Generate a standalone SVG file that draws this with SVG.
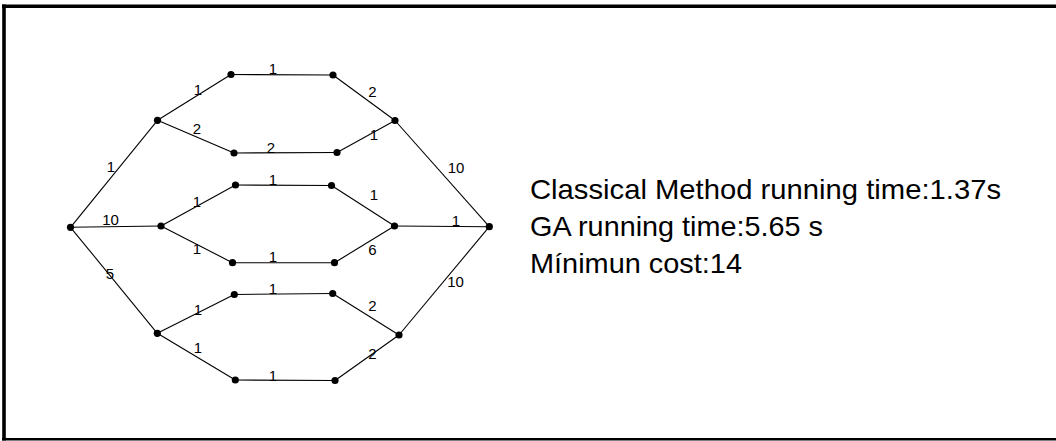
<svg xmlns="http://www.w3.org/2000/svg" width="1056" height="441" viewBox="0 0 1056 441">
<style>
.e{stroke:#000;stroke-width:1.1;fill:none}
.n{fill:#000}
.l{font-family:"Liberation Sans",Arial,sans-serif;font-size:15px;fill:#000;text-anchor:middle}
.t{font-family:"Liberation Sans",Arial,sans-serif;font-size:28px;fill:#000}
.f{stroke:#000;fill:none}
</style>
<rect width="1056" height="441" fill="#fff"/>
<g id="frame">
<line class="f" x1="2" y1="6.3" x2="1056" y2="6.3" stroke-width="3.6"/>
<line class="f" x1="4" y1="4.5" x2="4" y2="440.5" stroke-width="3.6"/>
<line class="f" x1="2" y1="439.2" x2="1056" y2="439.2" stroke-width="2.6"/>
</g>
<g id="connectors">
<line class="e" x1="70.5" y1="227.3" x2="157.5" y2="120.3"/>
<line class="e" x1="70.5" y1="227.3" x2="161" y2="226"/>
<line class="e" x1="70.5" y1="227.3" x2="157.3" y2="333.3"/>
<line class="e" x1="157.5" y1="120.3" x2="231" y2="74.5"/>
<line class="e" x1="157.5" y1="120.3" x2="234" y2="153"/>
<line class="e" x1="231" y1="74.5" x2="333" y2="75"/>
<line class="e" x1="234" y1="153" x2="337" y2="152.5"/>
<line class="e" x1="333" y1="75" x2="395" y2="120.5"/>
<line class="e" x1="337" y1="152.5" x2="395" y2="120.5"/>
<line class="e" x1="395" y1="120.5" x2="489.3" y2="226.7"/>
<line class="e" x1="161" y1="226" x2="235.5" y2="185"/>
<line class="e" x1="161" y1="226" x2="232.5" y2="262.7"/>
<line class="e" x1="235.5" y1="185" x2="331.5" y2="185.5"/>
<line class="e" x1="232.5" y1="262.7" x2="334.5" y2="262.7"/>
<line class="e" x1="331.5" y1="185.5" x2="394.5" y2="226"/>
<line class="e" x1="334.5" y1="262.7" x2="394.5" y2="226"/>
<line class="e" x1="394.5" y1="226" x2="489.3" y2="226.7"/>
<line class="e" x1="157.3" y1="333.3" x2="234.3" y2="294.5"/>
<line class="e" x1="157.3" y1="333.3" x2="235.3" y2="380"/>
<line class="e" x1="234.3" y1="294.5" x2="332.7" y2="293.5"/>
<line class="e" x1="235.3" y1="380" x2="335" y2="380.5"/>
<line class="e" x1="332.7" y1="293.5" x2="399" y2="335"/>
<line class="e" x1="335" y1="380.5" x2="399" y2="335"/>
<line class="e" x1="399" y1="335" x2="489.3" y2="226.7"/>
</g>
<g id="edge-labels">
<text class="l" x="111" y="172">1</text>
<text class="l" x="110.5" y="225">10</text>
<text class="l" x="110" y="279">5</text>
<text class="l" x="198" y="95">1</text>
<text class="l" x="197" y="134">2</text>
<text class="l" x="197" y="207">1</text>
<text class="l" x="197" y="254">1</text>
<text class="l" x="198" y="315">1</text>
<text class="l" x="198" y="353">1</text>
<text class="l" x="273" y="74">1</text>
<text class="l" x="271" y="153">2</text>
<text class="l" x="273" y="185">1</text>
<text class="l" x="273" y="262">1</text>
<text class="l" x="273" y="294">1</text>
<text class="l" x="273" y="380.5">1</text>
<text class="l" x="372.5" y="97">2</text>
<text class="l" x="374" y="140">1</text>
<text class="l" x="374" y="200">1</text>
<text class="l" x="372.5" y="255">6</text>
<text class="l" x="372.5" y="311">2</text>
<text class="l" x="372.5" y="359">2</text>
<text class="l" x="456" y="173">10</text>
<text class="l" x="456" y="225.5">1</text>
<text class="l" x="455.5" y="287">10</text>
</g>
<g id="nodes">
<circle id="A" class="n" cx="70.5" cy="227.3" r="3.6"/>
<circle id="B" class="n" cx="157.5" cy="120.3" r="3.6"/>
<circle id="C" class="n" cx="161" cy="226" r="3.6"/>
<circle id="G" class="n" cx="157.3" cy="333.3" r="3.6"/>
<circle id="T1L" class="n" cx="231" cy="74.5" r="3.6"/>
<circle id="T1R" class="n" cx="333" cy="75" r="3.6"/>
<circle id="T2L" class="n" cx="234" cy="153" r="3.6"/>
<circle id="T2R" class="n" cx="337" cy="152.5" r="3.6"/>
<circle id="M1L" class="n" cx="235.5" cy="185" r="3.6"/>
<circle id="M1R" class="n" cx="331.5" cy="185.5" r="3.6"/>
<circle id="M2L" class="n" cx="232.5" cy="262.7" r="3.6"/>
<circle id="M2R" class="n" cx="334.5" cy="262.7" r="3.6"/>
<circle id="L1L" class="n" cx="234.3" cy="294.5" r="3.6"/>
<circle id="L1R" class="n" cx="332.7" cy="293.5" r="3.6"/>
<circle id="L2L" class="n" cx="235.3" cy="380" r="3.6"/>
<circle id="L2R" class="n" cx="335" cy="380.5" r="3.6"/>
<circle id="D" class="n" cx="395" cy="120.5" r="3.6"/>
<circle id="E" class="n" cx="394.5" cy="226" r="3.6"/>
<circle id="H" class="n" cx="399" cy="335" r="3.6"/>
<circle id="F" class="n" cx="489.3" cy="226.7" r="3.6"/>
</g>
<g id="info">
<text class="t" x="530" y="198.5" textLength="471" lengthAdjust="spacingAndGlyphs">Classical Method running time:1.37s</text>
<text class="t" x="530" y="236" textLength="293" lengthAdjust="spacingAndGlyphs">GA running time:5.65 s</text>
<text class="t" x="530" y="273" textLength="212" lengthAdjust="spacingAndGlyphs">Mínimun cost:14</text>
</g>
</svg>
